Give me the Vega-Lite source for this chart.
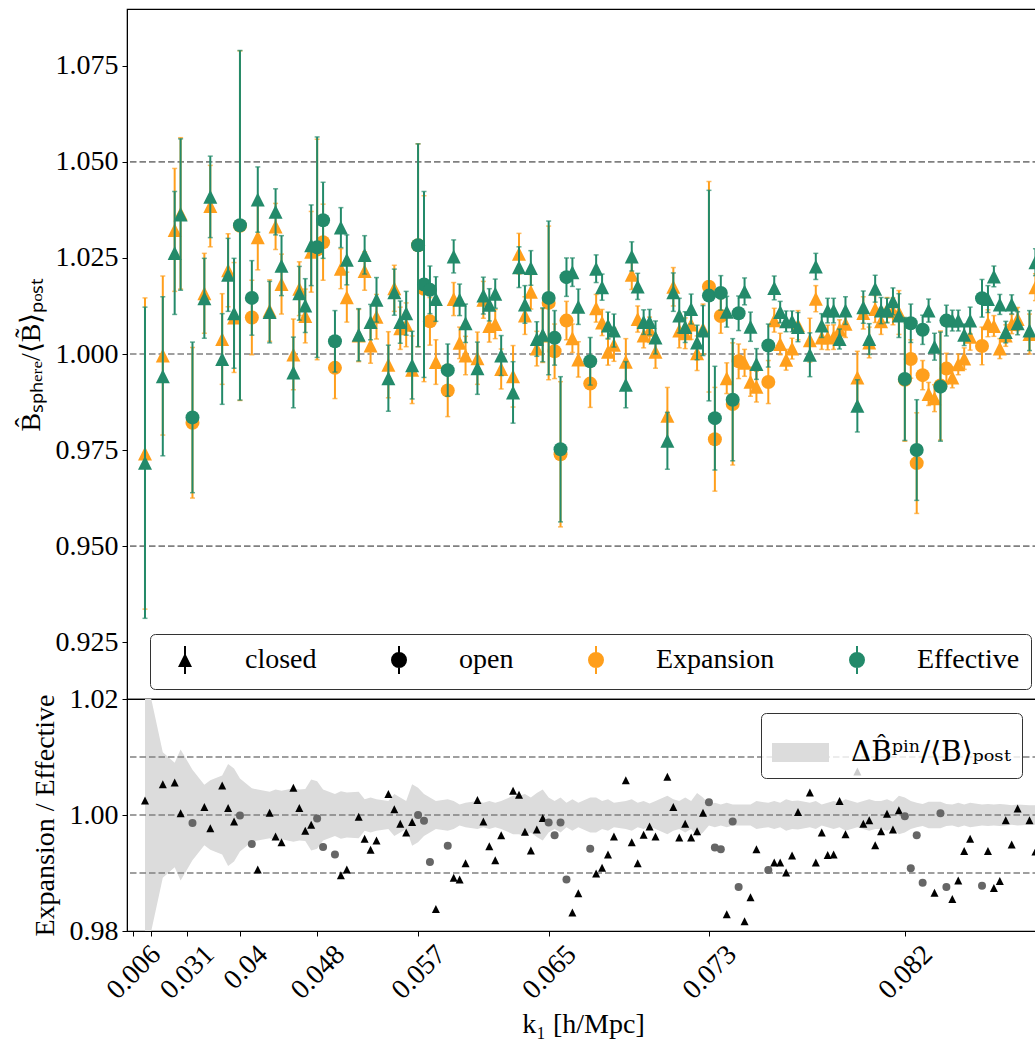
{
"$schema": "https://vega.github.io/schema/vega-lite/v6.json",
"padding": {"left": 16, "top": 8, "right": 0, "bottom": 0},
"background": "white",
"spacing": 0,
"bounds": "flush",
"config": {
 "font": "Liberation Serif",
 "view": {"stroke": "black", "strokeWidth": 1.2},
 "axis": {"labelFont": "Liberation Serif", "titleFont": "Liberation Serif", "labelFontSize": 28, "titleFontSize": 28, "labelColor": "black", "titleColor": "black", "tickColor": "black", "domainColor": "black", "tickSize": 5, "labelPadding": 4, "grid": false, "titleFontWeight": "normal"},
 "legend": {"labelFont": "Liberation Serif", "labelFontSize": 28, "labelColor": "black"},
 "concat": {"spacing": 0}
},
"datasets": {"d": [
{"i":0,"t":"c","ex":0.9741,"ef":0.9717,"s":0.0405,"r":1.0025,"bl":0.975,"bh":1.025},
{"i":3,"t":"c","ex":0.9996,"ef":0.9942,"s":0.0207,"r":1.0053,"bl":0.9892,"bh":1.0108},
{"i":5,"t":"c","ex":1.0323,"ef":1.0263,"s":0.016,"r":1.0056,"bl":0.991,"bh":1.009},
{"i":6,"t":"c","ex":1.0366,"ef":1.0363,"s":0.0197,"r":1.0003,"bl":0.9887,"bh":1.0113},
{"i":8,"t":"o","ex":0.9821,"ef":0.9835,"s":0.0196,"r":0.9986,"bl":0.9922,"bh":1.0078},
{"i":10,"t":"c","ex":1.0158,"ef":1.0145,"s":0.0104,"r":1.0014,"bl":0.9948,"bh":1.0052},
{"i":11,"t":"c","ex":1.0385,"ef":1.0409,"s":0.0106,"r":0.9977,"bl":0.994,"bh":1.006},
{"i":13,"t":"c","ex":1.0039,"ef":0.9987,"s":0.0118,"r":1.0051,"bl":0.9932,"bh":1.0068},
{"i":14,"t":"c","ex":1.0218,"ef":1.0206,"s":0.0095,"r":1.0012,"bl":0.9912,"bh":1.0088},
{"i":15,"t":"c","ex":1.0095,"ef":1.0106,"s":0.0143,"r":0.9989,"bl":0.992,"bh":1.008},
{"i":16,"t":"o","ex":1.0334,"ef":1.0335,"s":0.0455,"r":0.9999,"bl":0.9937,"bh":1.0063},
{"i":18,"t":"o","ex":1.0095,"ef":1.0146,"s":0.0097,"r":0.995,"bl":0.9954,"bh":1.0046},
{"i":19,"t":"c","ex":1.0304,"ef":1.0402,"s":0.0085,"r":0.9906,"bl":0.9956,"bh":1.0044},
{"i":21,"t":"c","ex":1.0113,"ef":1.0109,"s":0.008,"r":1.0004,"bl":0.996,"bh":1.004},
{"i":22,"t":"c","ex":1.0332,"ef":1.037,"s":0.006,"r":0.9963,"bl":0.9956,"bh":1.0044},
{"i":23,"t":"c","ex":1.0182,"ef":1.023,"s":0.0078,"r":0.9953,"bl":0.9958,"bh":1.0042},
{"i":25,"t":"c","ex":0.9999,"ef":0.9952,"s":0.0092,"r":1.0047,"bl":0.9954,"bh":1.0046},
{"i":26,"t":"c","ex":1.017,"ef":1.0158,"s":0.007,"r":1.0012,"bl":0.9956,"bh":1.0044},
{"i":27,"t":"c","ex":1.0099,"ef":1.0126,"s":0.007,"r":0.9973,"bl":0.9955,"bh":1.0045},
{"i":28,"t":"c","ex":1.0266,"ef":1.0283,"s":0.0105,"r":0.9983,"bl":0.9939,"bh":1.0061},
{"i":29,"t":"o","ex":1.0272,"ef":1.0278,"s":0.0287,"r":0.9994,"bl":0.9942,"bh":1.0058},
{"i":30,"t":"o","ex":1.0291,"ef":1.0348,"s":0.0099,"r":0.9945,"bl":0.9956,"bh":1.0044},
{"i":32,"t":"o","ex":0.9964,"ef":1.0033,"s":0.008,"r":0.9932,"bl":0.9964,"bh":1.0036},
{"i":33,"t":"c","ex":1.0222,"ef":1.0329,"s":0.0052,"r":0.9896,"bl":0.9959,"bh":1.0041},
{"i":34,"t":"c","ex":1.0148,"ef":1.0245,"s":0.0065,"r":0.9906,"bl":0.9961,"bh":1.0039},
{"i":36,"t":"c","ex":1.0048,"ef":1.005,"s":0.0068,"r":0.9997,"bl":0.996,"bh":1.004},
{"i":37,"t":"c","ex":1.0216,"ef":1.0258,"s":0.005,"r":0.9959,"bl":0.9973,"bh":1.0027},
{"i":38,"t":"c","ex":1.0022,"ef":1.0083,"s":0.0046,"r":0.994,"bl":0.997,"bh":1.003},
{"i":39,"t":"c","ex":1.0097,"ef":1.0141,"s":0.0058,"r":0.9956,"bl":0.9973,"bh":1.0027},
{"i":41,"t":"c","ex":0.9972,"ef":0.9937,"s":0.0086,"r":1.0036,"bl":0.9976,"bh":1.0024},
{"i":42,"t":"c","ex":1.0171,"ef":1.0161,"s":0.006,"r":1.001,"bl":0.9964,"bh":1.0036},
{"i":43,"t":"c","ex":1.0067,"ef":1.0083,"s":0.0055,"r":0.9985,"bl":0.997,"bh":1.003},
{"i":44,"t":"c","ex":1.0076,"ef":1.0106,"s":0.0057,"r":0.997,"bl":0.9976,"bh":1.0024},
{"i":45,"t":"c","ex":0.9959,"ef":0.9971,"s":0.0088,"r":0.9988,"bl":0.9947,"bh":1.0053},
{"i":46,"t":"o","ex":1.0283,"ef":1.0283,"s":0.0264,"r":1.0,"bl":0.9953,"bh":1.0047},
{"i":47,"t":"o","ex":1.017,"ef":1.0181,"s":0.0242,"r":0.999,"bl":0.9964,"bh":1.0036},
{"i":48,"t":"o","ex":1.0085,"ef":1.0167,"s":0.0062,"r":0.9919,"bl":0.997,"bh":1.003},
{"i":49,"t":"c","ex":0.9979,"ef":1.0143,"s":0.0058,"r":0.9838,"bl":0.9976,"bh":1.0024},
{"i":51,"t":"o","ex":0.9905,"ef":0.9958,"s":0.0068,"r":0.9947,"bl":0.9973,"bh":1.0027},
{"i":52,"t":"c","ex":1.0143,"ef":1.0254,"s":0.0043,"r":0.9892,"bl":0.9976,"bh":1.0024},
{"i":53,"t":"c","ex":1.0029,"ef":1.0141,"s":0.0041,"r":0.9889,"bl":0.9982,"bh":1.0018},
{"i":54,"t":"c","ex":0.9996,"ef":1.008,"s":0.005,"r":0.9917,"bl":0.9979,"bh":1.0021},
{"i":56,"t":"c","ex":0.9989,"ef":0.9963,"s":0.0068,"r":1.0026,"bl":0.9976,"bh":1.0024},
{"i":57,"t":"c","ex":1.0141,"ef":1.0152,"s":0.0048,"r":0.9989,"bl":0.9979,"bh":1.0021},
{"i":58,"t":"c","ex":1.0073,"ef":1.0128,"s":0.0042,"r":0.9946,"bl":0.9976,"bh":1.0024},
{"i":59,"t":"c","ex":1.0078,"ef":1.0157,"s":0.0038,"r":0.9922,"bl":0.9979,"bh":1.0021},
{"i":60,"t":"c","ex":0.9961,"ef":0.9996,"s":0.0052,"r":0.9965,"bl":0.9976,"bh":1.0024},
{"i":62,"t":"c","ex":0.9942,"ef":0.99,"s":0.008,"r":1.0042,"bl":0.9967,"bh":1.0033},
{"i":63,"t":"c","ex":1.0261,"ef":1.0226,"s":0.0053,"r":1.0035,"bl":0.9967,"bh":1.0033},
{"i":64,"t":"c","ex":1.01,"ef":1.0129,"s":0.0049,"r":0.9971,"bl":0.9964,"bh":1.0036},
{"i":65,"t":"c","ex":1.0162,"ef":1.0224,"s":0.0045,"r":0.9939,"bl":0.997,"bh":1.003},
{"i":66,"t":"c","ex":1.0014,"ef":1.0039,"s":0.0045,"r":0.9975,"bl":0.9962,"bh":1.0038},
{"i":67,"t":"c","ex":1.0048,"ef":1.005,"s":0.007,"r":0.9995,"bl":0.9956,"bh":1.0044},
{"i":68,"t":"o","ex":1.0133,"ef":1.0146,"s":0.02,"r":0.9987,"bl":0.997,"bh":1.003},
{"i":69,"t":"o","ex":1.0007,"ef":1.0042,"s":0.0071,"r":0.9965,"bl":0.9976,"bh":1.0024},
{"i":70,"t":"o","ex":0.9739,"ef":0.9752,"s":0.0189,"r":0.9987,"bl":0.997,"bh":1.003},
{"i":71,"t":"o","ex":1.0087,"ef":1.02,"s":0.005,"r":0.9889,"bl":0.9979,"bh":1.0021},
{"i":72,"t":"c","ex":1.0041,"ef":1.0213,"s":0.0037,"r":0.9832,"bl":0.9973,"bh":1.0027},
{"i":73,"t":"c","ex":0.9986,"ef":1.0123,"s":0.0046,"r":0.9865,"bl":0.9979,"bh":1.0021},
{"i":75,"t":"o","ex":0.9923,"ef":0.9981,"s":0.0062,"r":0.9942,"bl":0.997,"bh":1.003},
{"i":76,"t":"c","ex":1.0119,"ef":1.0222,"s":0.0036,"r":0.9899,"bl":0.997,"bh":1.003},
{"i":77,"t":"c","ex":1.0082,"ef":1.0174,"s":0.0034,"r":0.9909,"bl":0.9976,"bh":1.0024},
{"i":78,"t":"c","ex":1.0006,"ef":1.0074,"s":0.0035,"r":0.9932,"bl":0.9973,"bh":1.0027},
{"i":79,"t":"c","ex":1.0024,"ef":1.0061,"s":0.0043,"r":0.9963,"bl":0.9979,"bh":1.0021},
{"i":81,"t":"c","ex":0.998,"ef":0.992,"s":0.006,"r":1.006,"bl":0.9976,"bh":1.0024},
{"i":82,"t":"c","ex":1.0206,"ef":1.0254,"s":0.0038,"r":0.9953,"bl":0.9973,"bh":1.0027},
{"i":83,"t":"c","ex":1.0091,"ef":1.0176,"s":0.0034,"r":0.9917,"bl":0.9979,"bh":1.0021},
{"i":84,"t":"c","ex":1.0048,"ef":1.0083,"s":0.0032,"r":0.9966,"bl":0.9976,"bh":1.0024},
{"i":85,"t":"c","ex":1.0063,"ef":1.0083,"s":0.0033,"r":0.998,"bl":0.998,"bh":1.002},
{"i":86,"t":"c","ex":1.0006,"ef":1.0043,"s":0.0043,"r":0.9963,"bl":0.9976,"bh":1.0024},
{"i":88,"t":"c","ex":0.9839,"ef":0.9774,"s":0.0074,"r":1.0066,"bl":0.9967,"bh":1.0033},
{"i":89,"t":"c","ex":1.0175,"ef":1.0161,"s":0.005,"r":1.0014,"bl":0.9973,"bh":1.0027},
{"i":90,"t":"c","ex":1.0061,"ef":1.01,"s":0.0045,"r":0.9961,"bl":0.9976,"bh":1.0024},
{"i":91,"t":"c","ex":1.0054,"ef":1.007,"s":0.004,"r":0.9985,"bl":0.997,"bh":1.003},
{"i":92,"t":"c","ex":1.0077,"ef":1.0117,"s":0.0039,"r":0.9961,"bl":0.9976,"bh":1.0024},
{"i":93,"t":"c","ex":1.0002,"ef":1.003,"s":0.0045,"r":0.9972,"bl":0.9962,"bh":1.0038},
{"i":94,"t":"c","ex":1.0065,"ef":1.0061,"s":0.0065,"r":1.0004,"bl":0.997,"bh":1.003},
{"i":95,"t":"o","ex":1.0175,"ef":1.0152,"s":0.0274,"r":1.0022,"bl":0.9982,"bh":1.0018},
{"i":96,"t":"o","ex":0.9778,"ef":0.9833,"s":0.0135,"r":0.9944,"bl":0.9979,"bh":1.0021},
{"i":97,"t":"o","ex":1.0099,"ef":1.0159,"s":0.0045,"r":0.9941,"bl":0.9982,"bh":1.0018},
{"i":98,"t":"c","ex":0.9937,"ef":1.011,"s":0.004,"r":0.9829,"bl":0.9979,"bh":1.0021},
{"i":99,"t":"o","ex":0.987,"ef":0.9881,"s":0.0159,"r":0.9989,"bl":0.9982,"bh":1.0018},
{"i":100,"t":"o","ex":0.9981,"ef":1.0106,"s":0.0045,"r":0.9876,"bl":0.9982,"bh":1.0018},
{"i":101,"t":"c","ex":0.9977,"ef":1.0163,"s":0.0035,"r":0.9817,"bl":0.9982,"bh":1.0018},
{"i":102,"t":"c","ex":0.9928,"ef":1.0071,"s":0.0038,"r":0.9858,"bl":0.9982,"bh":1.0018},
{"i":103,"t":"c","ex":0.9915,"ef":0.9974,"s":0.004,"r":0.9941,"bl":0.9976,"bh":1.0024},
{"i":105,"t":"o","ex":0.9927,"ef":1.0022,"s":0.0056,"r":0.9905,"bl":0.9979,"bh":1.0021},
{"i":106,"t":"c","ex":1.0088,"ef":1.0172,"s":0.0031,"r":0.9918,"bl":0.9976,"bh":1.0024},
{"i":107,"t":"c","ex":1.0026,"ef":1.0109,"s":0.0028,"r":0.9918,"bl":0.9979,"bh":1.0021},
{"i":108,"t":"c","ex":0.9985,"ef":1.0085,"s":0.0027,"r":0.9901,"bl":0.9973,"bh":1.0027},
{"i":109,"t":"c","ex":1.0014,"ef":1.0085,"s":0.0027,"r":0.993,"bl":0.9976,"bh":1.0024},
{"i":110,"t":"c","ex":1.0075,"ef":1.007,"s":0.0038,"r":1.0005,"bl":0.9975,"bh":1.0025},
{"i":112,"t":"c","ex":1.0036,"ef":0.9998,"s":0.0057,"r":1.0039,"bl":0.9979,"bh":1.0021},
{"i":113,"t":"c","ex":1.0144,"ef":1.0228,"s":0.0034,"r":0.9918,"bl":0.9976,"bh":1.0024},
{"i":114,"t":"c","ex":1.0043,"ef":1.0074,"s":0.0031,"r":0.997,"bl":0.9982,"bh":1.0018},
{"i":115,"t":"c","ex":1.0043,"ef":1.0113,"s":0.0032,"r":0.9931,"bl":0.9979,"bh":1.0021},
{"i":116,"t":"c","ex":1.0044,"ef":1.0113,"s":0.0032,"r":0.9932,"bl":0.9976,"bh":1.0024},
{"i":117,"t":"c","ex":1.0063,"ef":1.0039,"s":0.0026,"r":1.0024,"bl":0.9979,"bh":1.0021},
{"i":118,"t":"c","ex":1.0079,"ef":1.0113,"s":0.0036,"r":0.9967,"bl":0.9973,"bh":1.0027},
{"i":120,"t":"c","ex":0.9939,"ef":0.9865,"s":0.0068,"r":1.0075,"bl":0.9979,"bh":1.0021},
{"i":121,"t":"c","ex":1.0107,"ef":1.0122,"s":0.0042,"r":0.9985,"bl":0.9976,"bh":1.0024},
{"i":122,"t":"c","ex":1.003,"ef":1.0039,"s":0.004,"r":0.9991,"bl":0.9973,"bh":1.0027},
{"i":123,"t":"c","ex":1.0117,"ef":1.017,"s":0.0035,"r":0.9948,"bl":0.9976,"bh":1.0024},
{"i":124,"t":"c","ex":1.0085,"ef":1.0113,"s":0.0034,"r":0.9972,"bl":0.9976,"bh":1.0024},
{"i":125,"t":"c","ex":1.0115,"ef":1.0113,"s":0.0032,"r":1.0002,"bl":0.9973,"bh":1.0027},
{"i":126,"t":"c","ex":1.0111,"ef":1.0137,"s":0.0035,"r":0.9975,"bl":0.9977,"bh":1.0023},
{"i":127,"t":"c","ex":1.0108,"ef":1.01,"s":0.0057,"r":1.0008,"bl":0.9967,"bh":1.0033},
{"i":128,"t":"o","ex":0.9933,"ef":0.9935,"s":0.016,"r":0.9998,"bl":0.997,"bh":1.003},
{"i":129,"t":"o","ex":0.9987,"ef":1.008,"s":0.005,"r":0.9908,"bl":0.9976,"bh":1.0024},
{"i":130,"t":"o","ex":0.9716,"ef":0.975,"s":0.0131,"r":0.9965,"bl":0.9979,"bh":1.0021},
{"i":131,"t":"o","ex":0.9945,"ef":1.0063,"s":0.0038,"r":0.9883,"bl":0.9981,"bh":1.0019},
{"i":132,"t":"c","ex":0.9896,"ef":1.0113,"s":0.003,"r":0.9785,"bl":0.9977,"bh":1.0023},
{"i":133,"t":"c","ex":0.9885,"ef":1.0019,"s":0.0035,"r":0.9866,"bl":0.9977,"bh":1.0023},
{"i":134,"t":"o","ex":0.9918,"ef":0.9915,"s":0.0142,"r":1.0003,"bl":0.9977,"bh":1.0023},
{"i":135,"t":"o","ex":0.9962,"ef":1.0087,"s":0.004,"r":0.9876,"bl":0.9981,"bh":1.0019},
{"i":136,"t":"c","ex":0.9939,"ef":1.0087,"s":0.0027,"r":0.9855,"bl":0.9982,"bh":1.0018},
{"i":137,"t":"c","ex":0.9973,"ef":1.0087,"s":0.0027,"r":0.9887,"bl":0.9979,"bh":1.0021},
{"i":138,"t":"c","ex":0.9988,"ef":1.005,"s":0.0028,"r":0.9938,"bl":0.9982,"bh":1.0018},
{"i":139,"t":"c","ex":1.0045,"ef":1.0087,"s":0.0035,"r":0.9959,"bl":0.9979,"bh":1.0021},
{"i":141,"t":"o","ex":1.0021,"ef":1.0145,"s":0.0049,"r":0.9878,"bl":0.9982,"bh":1.0018},
{"i":142,"t":"c","ex":1.008,"ef":1.0143,"s":0.0035,"r":0.9938,"bl":0.9981,"bh":1.0019},
{"i":143,"t":"c","ex":1.0073,"ef":1.0202,"s":0.0027,"r":0.9874,"bl":0.9982,"bh":1.0018},
{"i":144,"t":"c","ex":1.0014,"ef":1.0129,"s":0.0026,"r":0.9886,"bl":0.9981,"bh":1.0019},
{"i":145,"t":"c","ex":1.0048,"ef":1.0057,"s":0.0028,"r":0.9991,"bl":0.9982,"bh":1.0018},
{"i":146,"t":"c","ex":1.0078,"ef":1.0129,"s":0.0025,"r":0.9949,"bl":0.9983,"bh":1.0017},
{"i":147,"t":"c","ex":1.0091,"ef":1.008,"s":0.003,"r":1.0011,"bl":0.9982,"bh":1.0018},
{"i":149,"t":"c","ex":1.0052,"ef":1.0061,"s":0.0052,"r":0.9991,"bl":0.9983,"bh":1.0017},
{"i":150,"t":"c","ex":1.0174,"ef":1.0239,"s":0.0035,"r":0.9937,"bl":0.9983,"bh":1.0017}
]},
"vconcat": [
 {
  "width": 912, "height": 690,
  "layer": [
   {"data": {"values": [{"h": 0.95}, {"h": 1.0}, {"h": 1.05}]},
    "mark": {"type": "rule", "color": "#808080", "strokeDash": [6.5, 3], "strokeWidth": 1.6},
    "encoding": {"y": {"field": "h", "type": "quantitative", "scale": {"domain": [0.9102, 1.0898], "nice": false, "zero": false}, "axis": {"values": [0.925, 0.95, 0.975, 1.0, 1.025, 1.05, 1.075], "format": ".3f", "title": "B̂ₛₚₕₑᵣₑ/⟨B̃⟩ₚₒₛₜ", "titlePadding": 10}}}},
   {"data": {"name": "d"},
    "mark": {"type": "errorbar", "color": "#FF9F1C", "ticks": {"size": 5, "thickness": 1.5}, "rule": {"strokeWidth": 2}},
    "encoding": {"x": {"field": "i", "type": "quantitative", "scale": {"domain": [-3.03, 150.6], "nice": false, "zero": false}, "axis": null}, "y": {"field": "ex", "type": "quantitative", "axis": {"values": [0.925, 0.95, 0.975, 1.0, 1.025, 1.05, 1.075], "format": ".3f", "title": "B̂ₛₚₕₑᵣₑ/⟨B̃⟩ₚₒₛₜ", "titlePadding": 10}}, "yError": {"field": "s"}}},
   {"data": {"name": "d"},
    "mark": {"type": "point", "filled": true, "size": 196, "color": "#FF9F1C", "opacity": 1},
    "encoding": {"x": {"field": "i", "type": "quantitative", "axis": null}, "y": {"field": "ex", "type": "quantitative", "axis": {"values": [0.925, 0.95, 0.975, 1.0, 1.025, 1.05, 1.075], "format": ".3f", "title": "B̂ₛₚₕₑᵣₑ/⟨B̃⟩ₚₒₛₜ", "titlePadding": 10}}, "shape": {"field": "t", "type": "nominal", "scale": {"domain": ["c", "o"], "range": ["M0,-1L1,1L-1,1Z", "circle"]}, "legend": null}}},
   {"data": {"name": "d"},
    "mark": {"type": "errorbar", "color": "#238A6A", "ticks": {"size": 5, "thickness": 1.5}, "rule": {"strokeWidth": 2}},
    "encoding": {"x": {"field": "i", "type": "quantitative", "axis": null}, "y": {"field": "ef", "type": "quantitative", "axis": {"values": [0.925, 0.95, 0.975, 1.0, 1.025, 1.05, 1.075], "format": ".3f", "title": "B̂ₛₚₕₑᵣₑ/⟨B̃⟩ₚₒₛₜ", "titlePadding": 10}}, "yError": {"field": "s"}}},
   {"data": {"name": "d"},
    "mark": {"type": "point", "filled": true, "size": 196, "color": "#238A6A", "opacity": 1},
    "encoding": {"x": {"field": "i", "type": "quantitative", "axis": null}, "y": {"field": "ef", "type": "quantitative", "axis": {"values": [0.925, 0.95, 0.975, 1.0, 1.025, 1.05, 1.075], "format": ".3f", "title": "B̂ₛₚₕₑᵣₑ/⟨B̃⟩ₚₒₛₜ", "titlePadding": 10}}, "shape": {"field": "t", "type": "nominal", "scale": {"domain": ["c", "o"], "range": ["M0,-1L1,1L-1,1Z", "circle"]}, "legend": null}}},
   {"data": {"values": [{"lb": "closed"}]},
    "mark": {"type": "point", "filled": true, "clip": true, "opacity": 1, "strokeWidth": 2},
    "encoding": {
     "x": {"datum": -100, "type": "quantitative", "axis": null},
     "y": {"datum": 0.5, "type": "quantitative", "axis": {"values": [0.925, 0.95, 0.975, 1.0, 1.025, 1.05, 1.075], "format": ".3f", "title": "B̂ₛₚₕₑᵣₑ/⟨B̃⟩ₚₒₛₜ", "titlePadding": 10}},
     "fill": {"field": "lb", "type": "nominal", "scale": {"domain": ["closed", "open", "Expansion", "Effective"], "range": ["transparent", "black", "#FF9F1C", "#238A6A"]},
       "legend": {"orient": "none", "legendX": 23, "legendY": 625, "direction": "horizontal", "columns": 4, "title": null, "symbolType": "M0,-1V1M-0.5,0A0.5,0.5,0,1,1,0.5,0A0.5,0.5,0,1,1,-0.5,0Z", "symbolSize": 784, "symbolStrokeWidth": 2, "labelOffset": 45, "columnPadding": 58, "padding": 11, "strokeColor": "#333333", "cornerRadius": 5, "symbolOffset": 9, "labelFontSize": 28}},
     "stroke": {"field": "lb", "type": "nominal", "scale": {"domain": ["closed", "open", "Expansion", "Effective"], "range": ["transparent", "black", "#FF9F1C", "#238A6A"]},
       "legend": {"orient": "none", "legendX": 23, "legendY": 625, "direction": "horizontal", "columns": 4, "title": null, "symbolType": "M0,-1V1M-0.5,0A0.5,0.5,0,1,1,0.5,0A0.5,0.5,0,1,1,-0.5,0Z", "symbolSize": 784, "symbolStrokeWidth": 2, "labelOffset": 45, "columnPadding": 58, "padding": 11, "strokeColor": "#333333", "cornerRadius": 5, "symbolOffset": 9, "labelFontSize": 28}}
    }},
   {"data": {"values": [{"la": "closed"}]},
    "mark": {"type": "point", "filled": true, "clip": true, "opacity": 1, "color": "black"},
    "encoding": {
     "x": {"datum": -100, "type": "quantitative", "axis": null},
     "y": {"datum": 0.5, "type": "quantitative", "axis": {"values": [0.925, 0.95, 0.975, 1.0, 1.025, 1.05, 1.075], "format": ".3f", "title": "B̂ₛₚₕₑᵣₑ/⟨B̃⟩ₚₒₛₜ", "titlePadding": 10}},
     "shape": {"field": "la", "type": "nominal", "scale": {"domain": ["closed"], "range": ["M-0.07,-1H0.07V1H-0.07ZM0,-0.5L0.5,0.5L-0.5,0.5Z"]},
       "legend": {"orient": "none", "legendX": 23, "legendY": 625, "direction": "horizontal", "title": null, "symbolSize": 784, "symbolFillColor": "black", "labelOffset": 45, "padding": 11, "symbolOffset": 9, "labelFontSize": 28, "labelOpacity": 0}}
    }}
  ],
  "resolve": {"scale": {"shape": "independent"}}
 },
 {
  "width": 912, "height": 232,
  "layer": [
   {"data": {"name": "d"},
    "mark": {"type": "area", "clip": true, "opacity": 1},
    "encoding": {
     "x": {"field": "i", "type": "quantitative", "scale": {"domain": [-3.03, 150.6], "nice": false, "zero": false},
       "axis": {"values": [-2, 1, 7, 16, 29, 46, 68, 95, 128], "labelExpr": "datum.value==-2?'0.006':datum.value==7?'0.031':datum.value==16?'0.04':datum.value==29?'0.048':datum.value==46?'0.057':datum.value==68?'0.065':datum.value==95?'0.073':datum.value==128?'0.082':''", "labelAngle": -45, "labelAlign": "right", "labelBaseline": "top", "labelOffset": 13, "labelPadding": 4, "labelOverlap": false, "labelFlush": false, "title": "k₁ [h/Mpc]", "titlePadding": 6}},
     "y": {"field": "bl", "type": "quantitative", "scale": {"domain": [0.98, 1.02], "nice": false, "zero": false}, "axis": {"values": [0.98, 1.0, 1.02], "format": ".2f", "title": "Expansion / Effective", "titlePadding": 10}},
     "y2": {"field": "bh"},
     "fill": {"datum": "ΔB̂ᵖⁱⁿ/⟨B⟩ₚₒₛₜ", "type": "nominal", "scale": {"range": ["#dcdcdc"]},
       "legend": {"orient": "none", "legendX": 634, "legendY": 14, "title": null, "symbolType": "M-1,-0.333H1V0.333H-1Z", "symbolSize": 3249, "symbolStrokeWidth": 0, "labelOffset": 22, "padding": 11, "strokeColor": "#333333", "fillColor": "rgba(255,255,255,0.8)", "cornerRadius": 5, "labelFont": "DejaVu Serif", "labelFontSize": 28}}
    }},
   {"data": {"values": [{"h": 0.99}, {"h": 1.0}, {"h": 1.01}]},
    "mark": {"type": "rule", "color": "#808080", "strokeDash": [6.5, 3], "strokeWidth": 1.6},
    "encoding": {"y": {"field": "h", "type": "quantitative", "axis": {"values": [0.98, 1.0, 1.02], "format": ".2f", "title": "Expansion / Effective", "titlePadding": 10}}}},
   {"data": {"name": "d"},
    "mark": {"type": "point", "filled": true, "size": 64, "opacity": 1, "clip": true},
    "encoding": {
     "x": {"field": "i", "type": "quantitative", "axis": {"values": [-2, 1, 7, 16, 29, 46, 68, 95, 128], "labelExpr": "datum.value==-2?'0.006':datum.value==7?'0.031':datum.value==16?'0.04':datum.value==29?'0.048':datum.value==46?'0.057':datum.value==68?'0.065':datum.value==95?'0.073':datum.value==128?'0.082':''", "labelAngle": -45, "labelAlign": "right", "labelBaseline": "top", "labelOffset": 13, "labelPadding": 4, "labelOverlap": false, "labelFlush": false, "title": "k₁ [h/Mpc]", "titlePadding": 6}},
     "y": {"field": "r", "type": "quantitative", "axis": {"values": [0.98, 1.0, 1.02], "format": ".2f", "title": "Expansion / Effective", "titlePadding": 10}},
     "shape": {"field": "t", "type": "nominal", "scale": {"domain": ["c", "o"], "range": ["M0,-1L1,1L-1,1Z", "circle"]}, "legend": null},
     "color": {"field": "t", "type": "nominal", "scale": {"domain": ["c", "o"], "range": ["black", "#666666"]}, "legend": null}
    }}
  ]
 }
],
"resolve": {"scale": {"shape": "independent", "color": "independent", "fill": "independent", "stroke": "independent"}}
}
